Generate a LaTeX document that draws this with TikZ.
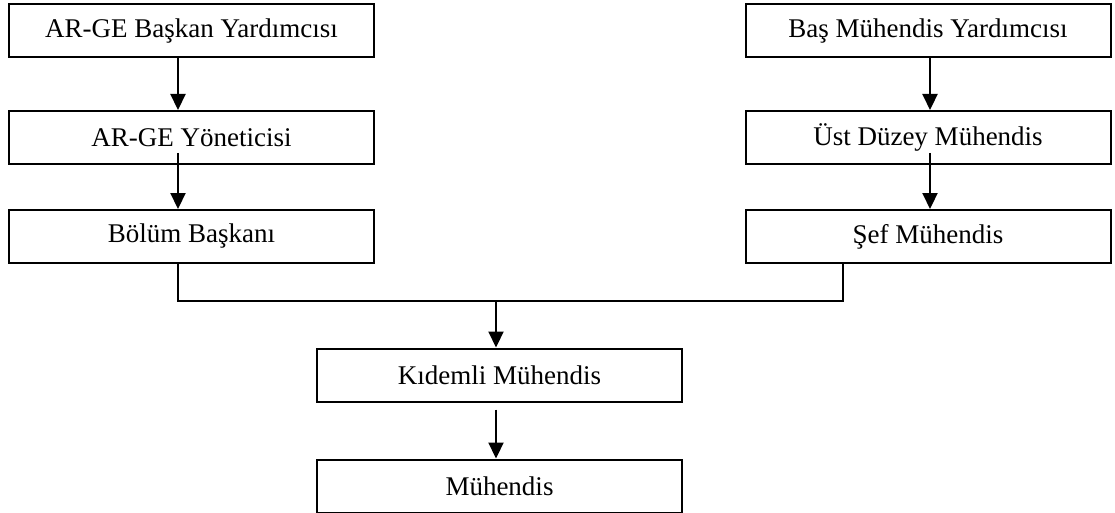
\documentclass[tikz,border=0pt]{standalone}
\usepackage{fontspec}
\setmainfont{Liberation Serif}
\usetikzlibrary{arrows.meta}
\begin{document}
\begin{tikzpicture}[x=1pt,y=-1pt,
  kutu/.style={rectangle, fill=none, draw=black, line width=2pt, minimum width=365pt, minimum height=53pt, inner sep=0pt, font=\fontsize{27}{32}\selectfont},
  ok/.style={line width=2.2pt, -{Triangle[length=16pt,width=15pt]}},
  hat/.style={line width=2pt}]
\useasboundingbox (0,0) rectangle (1115,513);
\node [kutu] (argevp) at (191.5,31) {AR-GE Başkan Yardımcısı};
\node [kutu] (argemgr) at (191.5,137.5) {AR-GE Yöneticisi};
\node [kutu] (bolum) at (191.5,236.5) {Bölüm Başkanı};
\node [kutu] (basvp) at (928,31) {Baş Mühendis Yardımcısı};
\node [kutu] (ustduzey) at (928,137.5) {Üst Düzey Mühendis};
\node [kutu] (sef) at (928,236.5) {Şef Mühendis};
\node [kutu] (kidemli) at (499.5,375) {Kıdemli Mühendis};
\node [kutu] (muh) at (499.5,486) {Mühendis};
\coordinate (birles) at (496,301);
\draw [ok] ([xshift=-13.5pt]argevp.south) -- ([xshift=-13.5pt]argemgr.north);
\draw [ok, shorten <=-12pt] ([xshift=-13.5pt]argemgr.south) -- ([xshift=-13.5pt]bolum.north);
\draw [ok] ([xshift=2pt]basvp.south) -- ([xshift=2pt]ustduzey.north);
\draw [ok, shorten <=-12pt] ([xshift=2pt]ustduzey.south) -- ([xshift=2pt]sef.north);
\draw [hat] ([xshift=-13.5pt]bolum.south) |- (birles) -| ([xshift=-85pt]sef.south);
\draw [ok] (birles) -- (birles |- kidemli.north);
\draw [ok, shorten <=7pt] ([xshift=-3.5pt]kidemli.south) -- ([xshift=-3.5pt]muh.north);
\end{tikzpicture}
\end{document}
